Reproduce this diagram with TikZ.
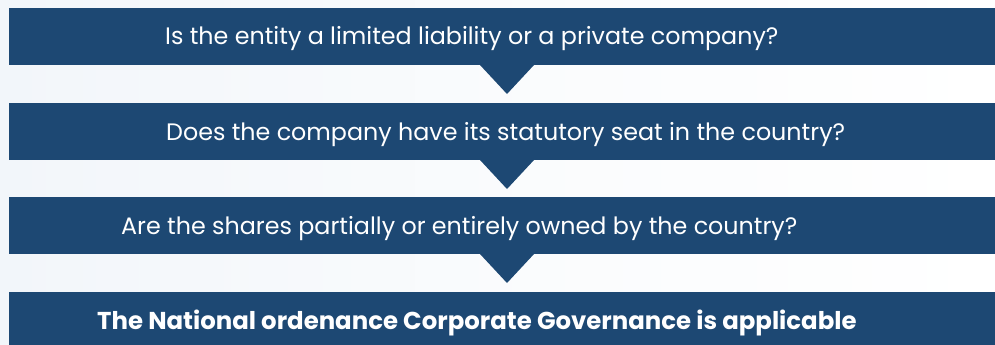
\documentclass[tikz,border=0pt]{standalone}
\usepackage{fontspec}
\setmainfont{Poppins}
\definecolor{barblue}{RGB}{29,72,115}
\definecolor{haze}{RGB}{242,246,250}
\begin{document}
\begin{tikzpicture}[x=1pt,y=-1pt,
  bar/.style={fill=barblue, minimum width=986pt, minimum height=57pt, inner sep=0pt, anchor=north west},
  question/.style={text=white, font=\fontsize{23.8}{28}\selectfont, anchor=base west, inner sep=0pt},
  verdict/.style={text=white, font=\bfseries\fontsize{24.4}{29}\selectfont, anchor=base west, inner sep=0pt},
  pointer/.style={fill=barblue}]
  % canvas with a faint haze on the left
  \shade[left color=haze, right color=white, middle color=white!60!haze] (0,0) rectangle (995,345);
  \useasboundingbox (0,0) rectangle (995,345);

  % bars
  \node[bar] (b1) at (9,8) {};
  \node[bar] (b2) at (9,103) {};
  \node[bar] (b3) at (9,197) {};
  \node[bar, minimum height=60pt] (b4) at (9,292) {};

  % downward pointers between bars
  \foreach \n/\y in {b1/65, b2/160, b3/254} {
    \fill[pointer] (480,\y) -- (534,\y) -- (507,\y+29) -- cycle;
  }

  % texts
  \node[question] (t1) at (165,45) {Is the entity a limited liability or a private company?};
  \node[question] (t2) at (166,140) {Does the company have its statutory seat in the country?};
  \node[question] (t3) at (121,234) {Are the shares partially or entirely owned by the country?};
  \node[verdict]  (t4) at (97,329) {The National ordenance Corporate Governance is applicable};
\end{tikzpicture}
\end{document}
